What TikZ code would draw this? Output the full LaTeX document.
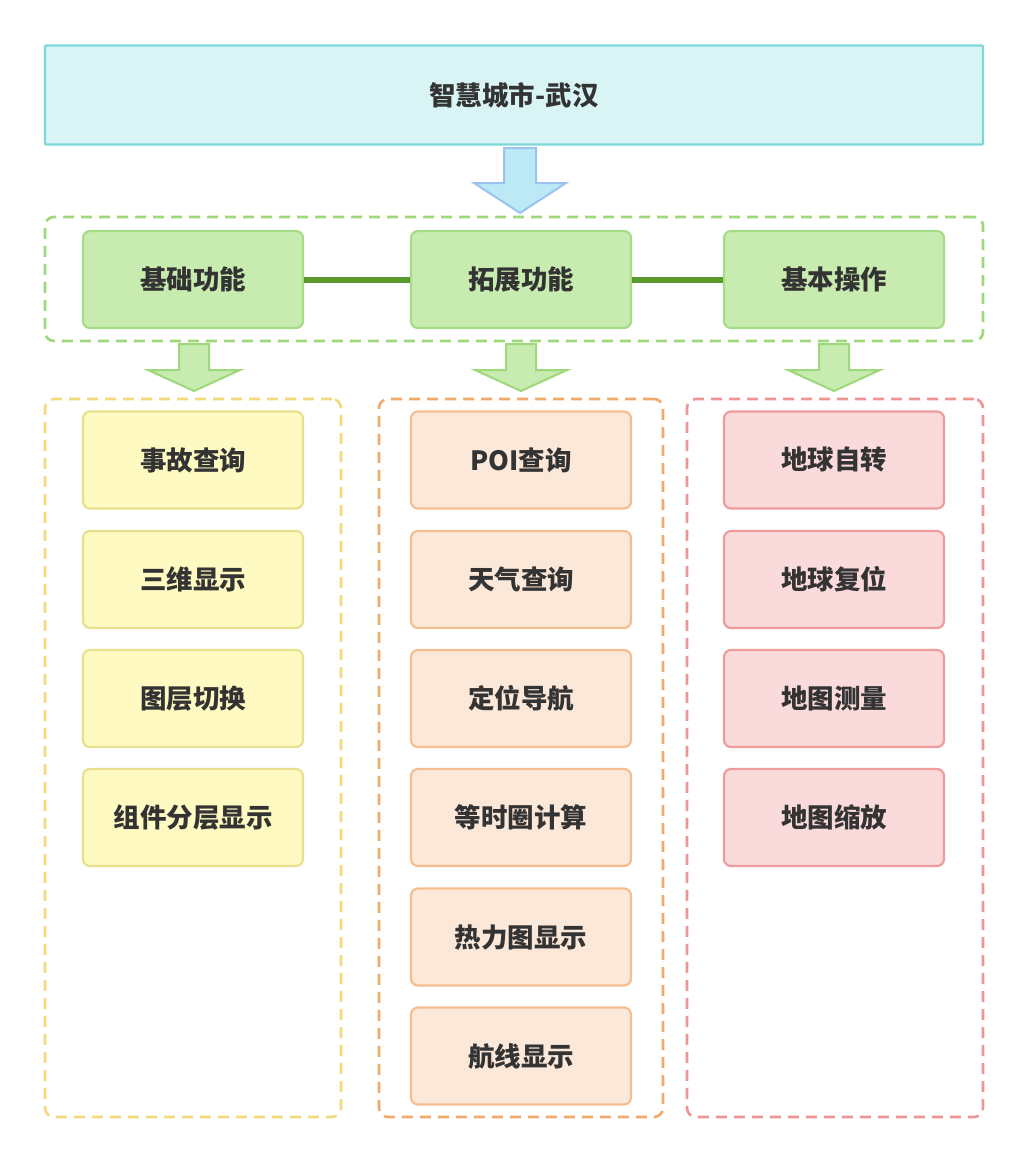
\documentclass[tikz,border=0pt]{standalone}
\usepackage{fontspec}
\setmainfont{Noto Sans CJK SC}
\usetikzlibrary{calc}
\definecolor{txt}{HTML}{333333}
\definecolor{tfill}{HTML}{D9F4F4}
\definecolor{tline}{HTML}{7ED8DA}
\definecolor{gfill}{HTML}{C8EBB0}
\definecolor{gline}{HTML}{A6DC88}
\definecolor{gdash}{HTML}{9ED87A}
\definecolor{gconn}{HTML}{5A982C}
\definecolor{yfill}{HTML}{FEFAC2}
\definecolor{yline}{HTML}{E9E08E}
\definecolor{ydash}{HTML}{F3DA7C}
\definecolor{ofill}{HTML}{FBE8D9}
\definecolor{oline}{HTML}{F4BE90}
\definecolor{odash}{HTML}{F1A96C}
\definecolor{rfill}{HTML}{FADADA}
\definecolor{rline}{HTML}{F09C9C}
\definecolor{rdash}{HTML}{EE9696}
\definecolor{bafill}{HTML}{BDE9F7}
\definecolor{baline}{HTML}{9CC3EE}
\definecolor{gafill}{HTML}{C8EBB0}
\definecolor{galine}{HTML}{9ED87A}
\newcommand{\blockarrow}[8]{%
  \draw[line width=2pt, line join=miter, fill=#7, draw=#8]
    (#1-#3,#2) -- (#1+#3,#2) -- (#1+#3,#5) -- (#1+#4,#5) -- (#1,#6)
    -- (#1-#4,#5) -- (#1-#3,#5) -- cycle;}
\begin{document}
\begin{tikzpicture}[x=1pt,y=-1pt,
  base/.style={rounded corners=7pt, line width=2.2pt, text=txt, inner sep=0pt,
    font=\bfseries\fontsize{26.5}{31}\selectfont, minimum width=220pt, minimum height=97pt},
  titlebox/.style={base, fill=tfill, draw=tline, rounded corners=1pt,
    minimum width=938pt, minimum height=99pt},
  gbox/.style={base, fill=gfill, draw=gline},
  ybox/.style={base, fill=yfill, draw=yline},
  obox/.style={base, fill=ofill, draw=oline},
  rbox/.style={base, fill=rfill, draw=rline},
  group/.style={line width=2.6pt, dash pattern=on 11pt off 7pt, rounded corners=9pt, inner sep=0pt}
]
\useasboundingbox[fill=white] (0,0) rectangle (1028,1163);

\node[titlebox] (title) at (514,95) {智慧城市-武汉};

\blockarrow{520}{148}{16}{46}{183}{213}{bafill}{baline}

\node[group, draw=gdash, minimum width=938pt, minimum height=124pt] (grp) at (514,279) {};
\node[gbox] (b1) at (193,279.5) {基础功能};
\node[gbox] (b2) at (521,279.5) {拓展功能};
\node[gbox] (b3) at (834,279.5) {基本操作};
\draw[gconn, line width=6pt] (b1.east) -- (b2.west);
\draw[gconn, line width=6pt] (b2.east) -- (b3.west);

\blockarrow{194}{344}{15}{46}{370}{391}{gafill}{galine}
\blockarrow{521}{344}{15}{46}{370}{391}{gafill}{galine}
\blockarrow{834}{344}{15}{46}{370}{391}{gafill}{galine}

\node[group, draw=ydash, minimum width=296pt, minimum height=718pt] (c1) at (193,758) {};
\node[group, draw=odash, minimum width=284pt, minimum height=718pt] (c2) at (521,758) {};
\node[group, draw=rdash, minimum width=296pt, minimum height=718pt] (c3) at (835,758) {};

\node[ybox] (y1) at (193,460) {事故查询};
\node[ybox] (y2) at (193,579.5) {三维显示};
\node[ybox] (y3) at (193,698.5) {图层切换};
\node[ybox] (y4) at (193,817.5) {组件分层显示};

\node[obox] (o1) at (521,460) {POI查询};
\node[obox] (o2) at (521,579.5) {天气查询};
\node[obox] (o3) at (521,698.5) {定位导航};
\node[obox] (o4) at (521,817.5) {等时圈计算};
\node[obox] (o5) at (521,937) {热力图显示};
\node[obox] (o6) at (521,1056) {航线显示};

\node[rbox] (r1) at (834,460) {地球自转};
\node[rbox] (r2) at (834,579.5) {地球复位};
\node[rbox] (r3) at (834,698.5) {地图测量};
\node[rbox] (r4) at (834,817.5) {地图缩放};
\end{tikzpicture}
\end{document}
